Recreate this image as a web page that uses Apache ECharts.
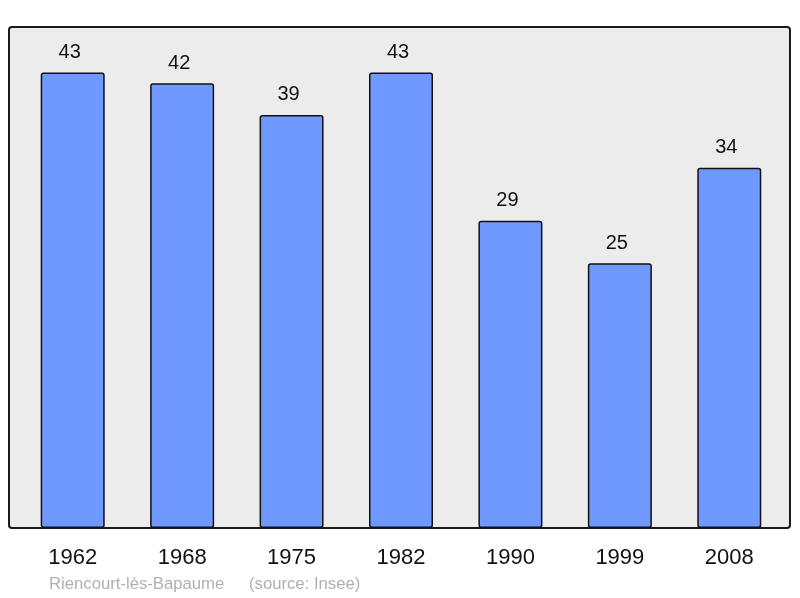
<!DOCTYPE html>
<html>
<head>
<meta charset="utf-8">
<script src="https://cdn.jsdelivr.net/npm/echarts@6/dist/echarts.min.js"></script>
<style>html,body{margin:0;padding:0;background:#fff}#c{width:800px;height:598px}</style>
</head>
<body>
<div id="c"></div>
<script>
const years = ['1962','1968','1975','1982','1990','1999','2008'];
const population = [43, 42, 39, 43, 29, 25, 34];
const footerPlace = 'Riencourt-lès-Bapaume';
const footerSource = '(source: Insee)';

const FONT = '"Liberation Sans", Arial, sans-serif';
const chart = echarts.init(document.getElementById('c'), null, {renderer:'canvas'});
chart.setOption({
  animation: false,
  backgroundColor: '#ffffff',
  grid: {left: 18, right: 16, top: 27, bottom: 70},
  graphic: [
    {type:'rect', z:-10, shape:{x:9, y:27, width:781, height:501, r:3},
     style:{fill:'#ececec', stroke:'#1a1a1a', lineWidth:2}},
    {type:'text', x:49, y:584, z:10,
     style:{text: footerPlace, fill:'#b0b0b0', font:'16.7px ' + FONT, verticalAlign:'middle'}},
    {type:'text', x:249, y:584, z:10,
     style:{text: footerSource, fill:'#b0b0b0', font:'16.7px ' + FONT, verticalAlign:'middle'}}
  ],
  xAxis: {
    type:'category', data: years,
    axisLine:{show:false}, axisTick:{show:false},
    axisLabel:{margin:19, color:'#111', fontSize:22, fontFamily:FONT}
  },
  yAxis: {type:'value', min:0, max:47.3, show:false, splitLine:{show:false}},
  series: [{
    type:'bar', data: population, barWidth:64,
    itemStyle:{color:'#7099ff', borderColor:'#111', borderWidth:1.5, borderRadius:2},
    label:{show:true, position:'top', distance:10, offset:[-3,0], color:'#111', fontSize:20,
           fontFamily:FONT}
  }]
});
</script>
</body>
</html>
